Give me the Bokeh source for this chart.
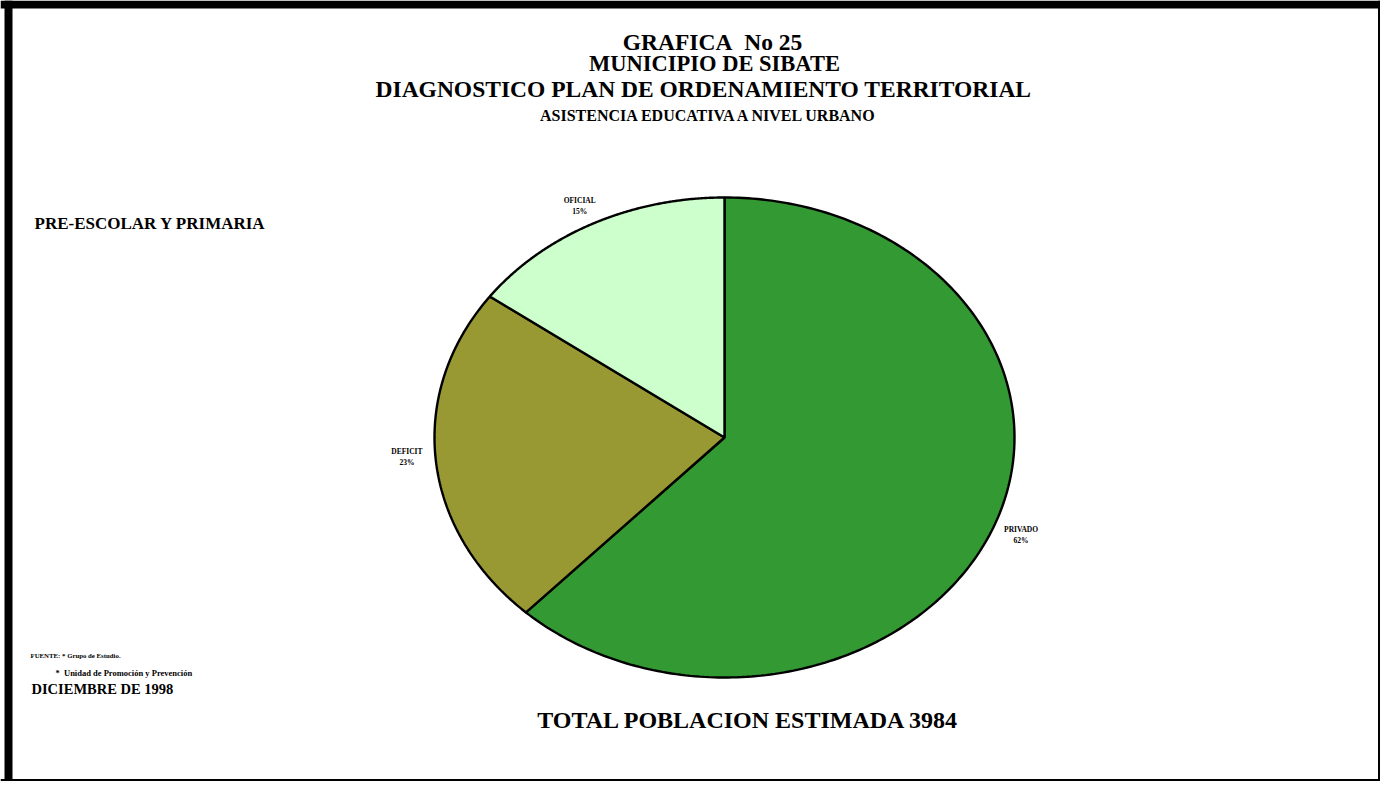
import numpy as np
from bokeh.plotting import figure
from bokeh.models import Range1d, ColumnDataSource, Span
from bokeh.core.properties import value
from bokeh.embed import file_html
from bokeh.resources import INLINE

# ---- data ----
categories = ["PRIVADO", "DEFICIT", "OFICIAL"]
percents = [62, 23, 15]
colors = ["#339933", "#999933", "#CCFFCC"]

title_lines = ["GRAFICA\u00a0\u00a0No 25", "MUNICIPIO DE SIBATE", "DIAGNOSTICO PLAN DE ORDENAMIENTO TERRITORIAL"]
subtitle = "ASISTENCIA EDUCATIVA A NIVEL URBANO"
section = "PRE-ESCOLAR Y PRIMARIA"
total_text = "TOTAL POBLACION ESTIMADA 3984"
source_lines = ["FUENTE: * Grupo de Estudio.", "*\u00a0\u00a0Unidad de Promoción y Prevención"]
date_text = "DICIEMBRE DE 1998"

FONT = value("Liberation Serif")

W, H = 1380, 781
p = figure(width=W, height=H, output_backend="svg", toolbar_location=None,
           x_range=Range1d(0, W), y_range=Range1d(H, 0),
           x_axis_type=None, y_axis_type=None, min_border=0,
           background_fill_color="white", border_fill_color="white")
p.grid.visible = False
p.outline_line_color = None

# frame: thick left / top, thin right / bottom
p.add_layout(Span(location=8, dimension="height", line_color="black", line_width=8))
p.add_layout(Span(location=4, dimension="width", line_color="black", line_width=8))
p.add_layout(Span(location=W - 1, dimension="height", line_color="black", line_width=3))
p.add_layout(Span(location=H - 1, dimension="width", line_color="black", line_width=3))

# ---- pie (ellipse, clockwise from 12 o'clock) ----
cx, cy, rx, ry = 724, 437, 290, 240
vals = np.array(percents, dtype=float)
cum = np.concatenate([[0], np.cumsum(vals)]) / vals.sum()
xs, ys = [], []
for a0, a1 in zip(cum[:-1], cum[1:]):
    t = np.linspace(a0, a1, 240) * 2 * np.pi
    xs.append(np.concatenate([[cx], cx + rx * np.sin(t), [cx]]))
    ys.append(np.concatenate([[cy], cy - ry * np.cos(t), [cy]]))
p.patches(xs=xs, ys=ys, fill_color=colors, line_color="black", line_width=2.4)

# ---- slice labels ----
mid = (cum[:-1] + cum[1:]) / 2 * 2 * np.pi
lx = cx + 1.1 * rx * np.sin(mid)
ly = cy - 1.1 * ry * np.cos(mid) + np.array([0, -5, 4])
lsrc = ColumnDataSource(dict(x=lx, y=ly,
                             t=[f"{c}\n{v}%" for c, v in zip(categories, percents)]))
p.text(x="x", y="y", text="t", source=lsrc, text_font=FONT, text_font_style="bold",
       text_font_size="7.5px", text_align="center", text_baseline="middle",
       text_line_height=1.2, text_color="black")

def put(x, y, s, size, align="center"):
    p.text(x=[x], y=[y], text=[s], text_font=FONT, text_font_style="bold",
           text_font_size=size, text_align=align, text_baseline="middle",
           text_color="black")

put(712, 41, title_lines[0], "23.5px")
put(714, 63, title_lines[1], "22.5px")
put(703, 88, title_lines[2], "23.5px")
put(709, 115, subtitle, "16px")
put(34, 223, section, "17px", "left")
put(748, 719, total_text, "24px")
put(30, 655, source_lines[0], "6.8px", "left")
put(55, 672, source_lines[1], "8.5px", "left")
put(31, 688, date_text, "14.5px", "left")

open("out.html", "w").write(file_html(p, INLINE))
